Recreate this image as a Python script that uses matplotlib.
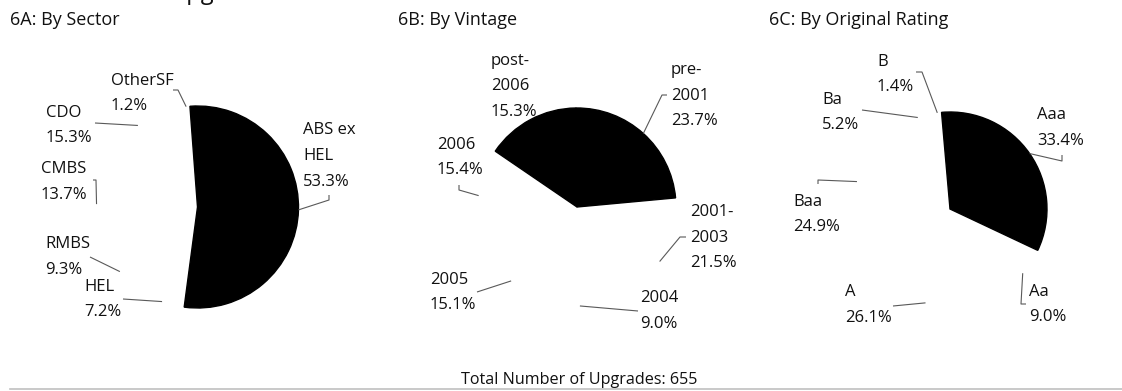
import matplotlib
matplotlib.use('Agg')  # no display in the sandbox
import matplotlib.pyplot as plt
import numpy as np

plt.rcParams['font.family'] = ['Open Sans', 'DejaVu Sans']

W, H = 1122, 391  # output size in pixels

# ---- data (shares in %, listed clockwise from the first slice) ----
sector_labels = ['ABS ex\nHEL', 'HEL', 'RMBS', 'CMBS', 'CDO', 'OtherSF']
sector_shares = [53.3, 7.2, 9.3, 13.7, 15.3, 1.2]

vintage_labels = ['pre-\n2001', '2001-\n2003', '2004', '2005', '2006', 'post-\n2006']
vintage_shares = [23.7, 21.5, 9.0, 15.1, 15.4, 15.3]

rating_labels = ['Aaa', 'Aa', 'A', 'Baa', 'Ba', 'B']
rating_shares = [33.4, 9.0, 26.1, 24.9, 5.2, 1.4]

total_upgrades = 655

# ---- layout (pixel coordinates measured from the top-left corner) ----
panels = [
    dict(title='6A: By Sector', title_x=10,
         labels=sector_labels, shares=sector_shares,
         center=(197.5, 207), radius=101, start=94.3,
         black=[True, False, False, False, False, False],
         text_pos=[(303, 156), (84, 299.5), (45, 257), (41, 182), (46, 125.5), (111, 93.5)],
         leaders=[[(329, 195), (329, 200)], [(123, 299)], [(90, 257)],
                  [(93, 180), (96, 180)], [(95, 123)], [(173, 90), (178, 90)]]),
    dict(title='6B: By Vintage', title_x=398,
         labels=vintage_labels, shares=vintage_shares,
         center=(577, 207), radius=99, start=90.6,
         black=[True, False, False, False, False, True],
         text_pos=[(671, 95.5), (690, 237.5), (640, 311), (430, 292.5), (437, 157.5), (491, 86.5)],
         leaders=[[(667, 95), (662, 95)], [(686, 237), (680, 237)], [(638, 311)],
                  [(477, 292)], [(459, 185), (459, 190)], None]),
    dict(title='6C: By Original Rating', title_x=769,
         labels=rating_labels, shares=rating_shares,
         center=(950, 209), radius=97, start=95.0,
         black=[True, False, False, False, False, False],
         text_pos=[(1037, 128), (1029, 304.5), (845, 305), (793, 214.5), (822, 112.5), (877, 74.5)],
         leaders=[[(1062, 155), (1062, 161)], [(1026, 304), (1021, 304)], [(893, 306)],
                  [(818, 184), (818, 180)], [(862, 110)], [(916, 72), (922, 72)]]),
]

TEXT = '#111111'
LEADER = '#595959'


def P(x, y):
    # pixel (top-left origin) -> data coords (bottom-left origin)
    return x, H - y


fig = plt.figure(figsize=(W / 100, H / 100), dpi=100)
ax = fig.add_axes([0, 0, 1, 1])

for pan in panels:
    colors = ['black' if b else 'white' for b in pan['black']]
    wedges, _ = ax.pie(pan['shares'], colors=colors, startangle=pan['start'],
                       counterclock=False, center=P(*pan['center']),
                       radius=pan['radius'], wedgeprops=dict(linewidth=0))
    for w, b in zip(wedges, pan['black']):
        if b:
            # outline in the fill colour so touching black slices merge
            w.set_edgecolor('black')
            w.set_linewidth(1.0)
            w.set_zorder(3)

    for w, lab, share, tpos, lead in zip(wedges, pan['labels'], pan['shares'],
                                         pan['text_pos'], pan['leaders']):
        # leader line ends on the rim at the middle of the slice
        mid = np.deg2rad((w.theta1 + w.theta2) / 2)
        ex = w.center[0] + w.r * np.cos(mid)
        ey = w.center[1] + w.r * np.sin(mid)
        if lead is not None:
            pts = [P(*p) for p in lead] + [(ex, ey)]
            xs, ys = zip(*pts)
            ax.plot(xs, ys, color=LEADER, lw=0.8, solid_capstyle='butt', zorder=4)
        ax.text(*P(*tpos), f'{lab}\n{share:.1f}%', ha='left', va='center',
                fontsize=12, color=TEXT, linespacing=1.8)

    ax.text(*P(pan['title_x'], 20), pan['title'], ha='left', va='center',
            fontsize=13, color=TEXT)

# bottom note and rule
ax.text(*P(579.5, 380), f'Total Number of Upgrades: {total_upgrades}',
        ha='center', va='center', fontsize=11.6, color=TEXT)
ax.plot(*zip(P(10, 388.5), P(W, 388.5)), color='#c0c0c0', lw=1.2)

# heading of the exhibit, cut off by the top edge of the picture
fig.text(170 / W, 1 + 1 / H, 'Upgrades', ha='left', va='baseline',
         fontsize=17, color=TEXT)

ax.set_xlim(0, W)
ax.set_ylim(0, H)
ax.set_aspect('equal')
ax.axis('off')

fig.savefig('out.png', dpi=100)
